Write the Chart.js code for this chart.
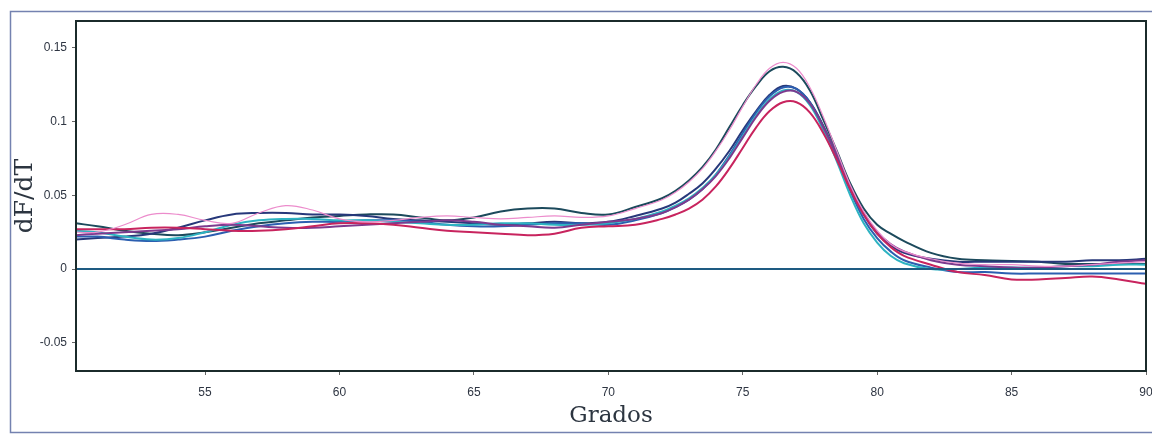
<!DOCTYPE html>
<html>
<head>
<meta charset="utf-8">
<title>dF/dT</title>
<script src="https://cdn.jsdelivr.net/npm/chart.js@4/dist/chart.umd.min.js"></script>
<style>
  html, body { margin: 0; padding: 0; background: #fff; }
  #melt-chart { display: block; }
</style>
</head>
<body>
<canvas id="melt-chart" width="1152" height="435"></canvas>
<script>
// temperaturas (Grados)
const temps = [50.2, 51, 52, 53, 54, 55, 56, 57, 58, 59, 60, 61, 62, 63, 64, 65, 66, 67, 68, 69, 70, 71, 72,
    72.5, 73, 73.5, 74, 74.5, 75, 75.5, 76, 76.5, 77, 77.5, 78, 78.5, 79, 79.5, 80, 80.5, 81,
    82, 83, 84, 85, 86, 87, 88, 89, 90];

// dF/dT por muestra
const darkTeal = [.031, .029, .026, .024, .023, .025, .028, .031, .033, .035, .036, .037, .037, .035, .033, .035, .039, .041, .041, .038, .037, .042, .048,
    .053, .060, .069, .081, .096, .111, .124, .134, .137, .133, .121, .101, .080, .058, .041, .030, .024, .019,
    .011, .007, .006, .0055, .005, .0035, .0035, .0035, .0035];
const navy = [.020, .021, .022, .024, .028, .033, .037, .038, .038, .037, .037, .036, .034, .033, .032, .031, .030, .031, .032, .031, .032, .036, .041,
    .045, .051, .058, .068, .080, .094, .107, .118, .124, .122, .113, .097, .077, .055, .037, .024, .016, .011,
    .007, .005, .005, .005, .005, .005, .006, .006, .007];
const cyan = [.026, .025, .022, .020, .021, .025, .030, .033, .034, .034, .033, .033, .032, .031, .030, .030, .031, .031, .030, .030, .031, .034, .039,
    .043, .048, .055, .064, .076, .090, .104, .115, .121, .120, .111, .094, .073, .050, .031, .018, .009, .004,
    .000, .000, .001, .001, .001, .002, .002, .003, .003];
const blue = [.022, .022, .020, .019, .020, .022, .026, .029, .031, .032, .032, .033, .033, .032, .030, .029, .029, .030, .031, .031, .030, .033, .038,
    .042, .047, .054, .064, .077, .092, .106, .117, .123, .122, .113, .096, .075, .053, .034, .021, .012, .006,
    .001, -.002, -.002, -.003, -.003, -.003, -.003, -.003, -.003];
const crimson = [.027, .027, .027, .028, .028, .027, .026, .026, .027, .029, .031, .031, .030, .028, .026, .025, .024, .023, .024, .028, .029, .030, .034,
    .037, .041, .047, .056, .068, .082, .096, .107, .113, .113, .106, .092, .074, .054, .037, .024, .015, .009,
    .003, -.002, -.004, -.007, -.007, -.006, -.005, -.007, -.010];
const purple = [.023, .024, .025, .026, .027, .029, .030, .029, .028, .028, .029, .030, .031, .032, .033, .032, .030, .029, .028, .030, .032, .034, .038,
    .042, .047, .054, .063, .075, .089, .103, .114, .120, .120, .112, .096, .077, .056, .038, .025, .017, .012,
    .006, .003, .002, .001, .001, .002, .003, .005, .006];
const pink = [.025, .025, .030, .037, .037, .033, .031, .038, .043, .040, .034, .032, .033, .035, .036, .035, .034, .035, .036, .035, .036, .041, .047,
    .052, .059, .068, .080, .094, .110, .125, .136, .140, .136, .123, .103, .080, .057, .039, .026, .017, .012,
    .007, .004, .003, .003, .002, .002, .003, .004, .005];

// linea base
const baseTemps = [50.2, 90];
const baseValues = [0, 0];

// ejes
const xMin = 50.2;
const xMax = 90;
const yMin = -0.069;
const yMax = 0.168;
const xTickValues = [55, 60, 65, 70, 75, 80, 85, 90];
const yTickValues = [-0.05, 0, 0.05, 0.1, 0.15];
const yTickLabels = ['-0.05', '0', '0.05', '0.1', '0.15'];

function toPoints(xs, ys){
    const pts = [];
    for (let i = 0; i < xs.length; i++) {
        pts.push({ x: xs[i], y: ys[i] });
    }
    return pts;
}

function curve(label, values, color, width){
    return {
        label: label,
        data: toPoints(temps, values),
        borderColor: color,
        borderWidth: width,
        pointRadius: 0,
        tension: 0.4,
        fill: false
    };
}

// marcos: recuadro exterior y caja del grafico
const framePlugin = {
    id: 'frames',
    beforeDraw(chart){
        const c = chart.ctx;
        c.save();
        c.fillStyle = '#ffffff';
        c.fillRect(0, 0, chart.width, chart.height);
        c.strokeStyle = '#7482b0';
        c.lineWidth = 1.5;
        c.beginPath();
        c.moveTo(chart.width + 2, 11.5);
        c.lineTo(10.5, 11.5);
        c.lineTo(10.5, 432.5);
        c.lineTo(chart.width + 2, 432.5);
        c.stroke();
        c.restore();
    },
    afterDatasetsDraw(chart){
        const a = chart.chartArea;
        const c = chart.ctx;
        c.save();
        c.strokeStyle = '#1b2b2b';
        c.lineWidth = 2;
        c.strokeRect(a.left, a.top, a.right - a.left, a.bottom - a.top);
        c.restore();
    }
};

var ctx = document.getElementById('melt-chart').getContext('2d');
var meltChart = new Chart(ctx, {
    type: 'line',
    data: {
        datasets: [
            {
                label: 'base',
                data: toPoints(baseTemps, baseValues),
                borderColor: '#1e5b82',
                borderWidth: 2,
                pointRadius: 0,
                fill: false
            },
            curve('m1', pink, '#ec8ccc', 1.2),
            curve('m2', crimson, '#c8245e', 2),
            curve('m3', purple, '#7d3a8e', 2),
            curve('m4', cyan, '#2db3c2', 2),
            curve('m5', blue, '#2c5fb0', 2),
            curve('m6', navy, '#27387a', 2),
            curve('m7', darkTeal, '#1c4a5c', 2)
        ]
    },
    options: {
        responsive: false,
        animation: false,
        events: [],
        layout: {
            padding: { top: 21, right: 6, left: 0, bottom: 0 }
        },
        plugins: {
            legend: { display: false },
            tooltip: { enabled: false }
        },
        scales: {
            x: {
                type: 'linear',
                min: xMin,
                max: xMax,
                afterBuildTicks: function(scale){
                    scale.ticks = xTickValues.map(v => ({ value: v }));
                },
                afterFit: function(scale){
                    scale.height = 64;
                    scale.paddingLeft = 0;
                    scale.paddingRight = 0;
                },
                border: { display: false },
                grid: {
                    drawOnChartArea: false,
                    drawTicks: true,
                    tickLength: 4,
                    color: '#666666'
                },
                ticks: {
                    autoSkip: false,
                    maxRotation: 0,
                    padding: 10,
                    color: '#2e3542',
                    font: { family: 'Liberation Sans', size: 12 },
                    callback: function(value){ return String(value); }
                },
                title: {
                    display: true,
                    text: 'Grados',
                    color: '#2c3540',
                    font: { family: 'DejaVu Serif', size: 23 },
                    padding: { top: 0, bottom: 5 }
                }
            },
            y: {
                type: 'linear',
                min: yMin,
                max: yMax,
                afterBuildTicks: function(scale){
                    scale.ticks = yTickValues.map(v => ({ value: v }));
                },
                afterFit: function(scale){
                    scale.width = 76;
                    scale.paddingTop = 0;
                    scale.paddingBottom = 0;
                },
                border: { display: false },
                grid: {
                    drawOnChartArea: false,
                    drawTicks: true,
                    tickLength: 4,
                    color: '#666666'
                },
                ticks: {
                    padding: 5,
                    color: '#2e3542',
                    font: { family: 'Liberation Sans', size: 12 },
                    callback: function(value){
                        const i = yTickValues.indexOf(value);
                        return i >= 0 ? yTickLabels[i] : '';
                    }
                },
                title: {
                    display: true,
                    text: 'dF/dT',
                    color: '#2c3540',
                    font: { family: 'DejaVu Serif', size: 25 },
                    padding: { top: 10, bottom: 0 }
                }
            }
        }
    },
    plugins: [framePlugin]
});
</script>
</body>
</html>
